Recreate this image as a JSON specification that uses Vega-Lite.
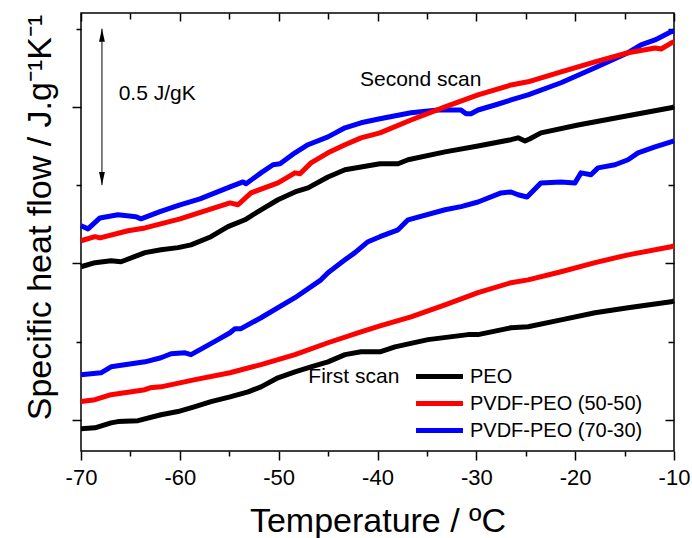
{
  "$schema": "https://vega.github.io/schema/vega-lite/v6.json",
  "width": 593,
  "height": 438,
  "autosize": {"type": "none"},
  "padding": {"left": 81, "top": 13, "right": 18, "bottom": 87},
  "background": "white",
  "config": {
    "view": {"stroke": "black", "strokeWidth": 1.5},
    "axis": {"domain": false, "grid": false, "tickColor": "black", "tickWidth": 1.5, "labelColor": "black", "titleColor": "black", "labelFont": "Liberation Sans", "titleFont": "Liberation Sans", "titleFontWeight": "normal"},
    "legend": {"labelFont": "Liberation Sans", "labelColor": "black"}
  },
  "datasets": {
    "curves": [
      {"sample": "PVDF-PEO (70-30)", "scan": "second", "T": -70, "heat": 0.620},
      {"sample": "PVDF-PEO (70-30)", "scan": "second", "T": -69.29, "heat": 0.610},
      {"sample": "PVDF-PEO (70-30)", "scan": "second", "T": -68.08, "heat": 0.645},
      {"sample": "PVDF-PEO (70-30)", "scan": "second", "T": -66.26, "heat": 0.655},
      {"sample": "PVDF-PEO (70-30)", "scan": "second", "T": -64.43, "heat": 0.649},
      {"sample": "PVDF-PEO (70-30)", "scan": "second", "T": -63.93, "heat": 0.642},
      {"sample": "PVDF-PEO (70-30)", "scan": "second", "T": -62.01, "heat": 0.665},
      {"sample": "PVDF-PEO (70-30)", "scan": "second", "T": -59.98, "heat": 0.687},
      {"sample": "PVDF-PEO (70-30)", "scan": "second", "T": -57.96, "heat": 0.706},
      {"sample": "PVDF-PEO (70-30)", "scan": "second", "T": -54.92, "heat": 0.744},
      {"sample": "PVDF-PEO (70-30)", "scan": "second", "T": -53.61, "heat": 0.760},
      {"sample": "PVDF-PEO (70-30)", "scan": "second", "T": -53.30, "heat": 0.754},
      {"sample": "PVDF-PEO (70-30)", "scan": "second", "T": -51.79, "heat": 0.789},
      {"sample": "PVDF-PEO (70-30)", "scan": "second", "T": -50.57, "heat": 0.815},
      {"sample": "PVDF-PEO (70-30)", "scan": "second", "T": -49.86, "heat": 0.818},
      {"sample": "PVDF-PEO (70-30)", "scan": "second", "T": -48.35, "heat": 0.853},
      {"sample": "PVDF-PEO (70-30)", "scan": "second", "T": -47.03, "heat": 0.879},
      {"sample": "PVDF-PEO (70-30)", "scan": "second", "T": -45.01, "heat": 0.904},
      {"sample": "PVDF-PEO (70-30)", "scan": "second", "T": -43.29, "heat": 0.933},
      {"sample": "PVDF-PEO (70-30)", "scan": "second", "T": -41.67, "heat": 0.949},
      {"sample": "PVDF-PEO (70-30)", "scan": "second", "T": -39.75, "heat": 0.962},
      {"sample": "PVDF-PEO (70-30)", "scan": "second", "T": -36.61, "heat": 0.981},
      {"sample": "PVDF-PEO (70-30)", "scan": "second", "T": -33.88, "heat": 0.990},
      {"sample": "PVDF-PEO (70-30)", "scan": "second", "T": -31.55, "heat": 0.990},
      {"sample": "PVDF-PEO (70-30)", "scan": "second", "T": -31.04, "heat": 0.978},
      {"sample": "PVDF-PEO (70-30)", "scan": "second", "T": -30.54, "heat": 0.978},
      {"sample": "PVDF-PEO (70-30)", "scan": "second", "T": -29.83, "heat": 0.990},
      {"sample": "PVDF-PEO (70-30)", "scan": "second", "T": -28.11, "heat": 1.006},
      {"sample": "PVDF-PEO (70-30)", "scan": "second", "T": -26.49, "heat": 1.022},
      {"sample": "PVDF-PEO (70-30)", "scan": "second", "T": -24.77, "heat": 1.038},
      {"sample": "PVDF-PEO (70-30)", "scan": "second", "T": -21.43, "heat": 1.077},
      {"sample": "PVDF-PEO (70-30)", "scan": "second", "T": -17.99, "heat": 1.125},
      {"sample": "PVDF-PEO (70-30)", "scan": "second", "T": -14.65, "heat": 1.173},
      {"sample": "PVDF-PEO (70-30)", "scan": "second", "T": -13.34, "heat": 1.198},
      {"sample": "PVDF-PEO (70-30)", "scan": "second", "T": -11.92, "heat": 1.214},
      {"sample": "PVDF-PEO (70-30)", "scan": "second", "T": -10.30, "heat": 1.240},
      {"sample": "PVDF-PEO (70-30)", "scan": "second", "T": -10.0, "heat": 1.243},
      {"sample": "PVDF-PEO (70-30)", "scan": "first", "T": -70, "heat": 0.144},
      {"sample": "PVDF-PEO (70-30)", "scan": "first", "T": -67.98, "heat": 0.150},
      {"sample": "PVDF-PEO (70-30)", "scan": "first", "T": -66.96, "heat": 0.169},
      {"sample": "PVDF-PEO (70-30)", "scan": "first", "T": -63.52, "heat": 0.185},
      {"sample": "PVDF-PEO (70-30)", "scan": "first", "T": -61.91, "heat": 0.198},
      {"sample": "PVDF-PEO (70-30)", "scan": "first", "T": -60.89, "heat": 0.211},
      {"sample": "PVDF-PEO (70-30)", "scan": "first", "T": -59.48, "heat": 0.214},
      {"sample": "PVDF-PEO (70-30)", "scan": "first", "T": -58.87, "heat": 0.208},
      {"sample": "PVDF-PEO (70-30)", "scan": "first", "T": -57.45, "heat": 0.233},
      {"sample": "PVDF-PEO (70-30)", "scan": "first", "T": -56.14, "heat": 0.256},
      {"sample": "PVDF-PEO (70-30)", "scan": "first", "T": -54.92, "heat": 0.278},
      {"sample": "PVDF-PEO (70-30)", "scan": "first", "T": -54.42, "heat": 0.291},
      {"sample": "PVDF-PEO (70-30)", "scan": "first", "T": -53.81, "heat": 0.291},
      {"sample": "PVDF-PEO (70-30)", "scan": "first", "T": -51.79, "heat": 0.326},
      {"sample": "PVDF-PEO (70-30)", "scan": "first", "T": -48.35, "heat": 0.390},
      {"sample": "PVDF-PEO (70-30)", "scan": "first", "T": -45.72, "heat": 0.447},
      {"sample": "PVDF-PEO (70-30)", "scan": "first", "T": -45.01, "heat": 0.470},
      {"sample": "PVDF-PEO (70-30)", "scan": "first", "T": -43.29, "heat": 0.511},
      {"sample": "PVDF-PEO (70-30)", "scan": "first", "T": -42.28, "heat": 0.534},
      {"sample": "PVDF-PEO (70-30)", "scan": "first", "T": -40.96, "heat": 0.569},
      {"sample": "PVDF-PEO (70-30)", "scan": "first", "T": -39.75, "heat": 0.585},
      {"sample": "PVDF-PEO (70-30)", "scan": "first", "T": -37.92, "heat": 0.607},
      {"sample": "PVDF-PEO (70-30)", "scan": "first", "T": -36.91, "heat": 0.639},
      {"sample": "PVDF-PEO (70-30)", "scan": "first", "T": -33.17, "heat": 0.671},
      {"sample": "PVDF-PEO (70-30)", "scan": "first", "T": -31.55, "heat": 0.681},
      {"sample": "PVDF-PEO (70-30)", "scan": "first", "T": -29.83, "heat": 0.696},
      {"sample": "PVDF-PEO (70-30)", "scan": "first", "T": -27.50, "heat": 0.725},
      {"sample": "PVDF-PEO (70-30)", "scan": "first", "T": -26.49, "heat": 0.728},
      {"sample": "PVDF-PEO (70-30)", "scan": "first", "T": -25.78, "heat": 0.719},
      {"sample": "PVDF-PEO (70-30)", "scan": "first", "T": -24.87, "heat": 0.712},
      {"sample": "PVDF-PEO (70-30)", "scan": "first", "T": -23.46, "heat": 0.757},
      {"sample": "PVDF-PEO (70-30)", "scan": "first", "T": -21.43, "heat": 0.760},
      {"sample": "PVDF-PEO (70-30)", "scan": "first", "T": -20.02, "heat": 0.757},
      {"sample": "PVDF-PEO (70-30)", "scan": "first", "T": -19.41, "heat": 0.789},
      {"sample": "PVDF-PEO (70-30)", "scan": "first", "T": -18.40, "heat": 0.783},
      {"sample": "PVDF-PEO (70-30)", "scan": "first", "T": -17.69, "heat": 0.805},
      {"sample": "PVDF-PEO (70-30)", "scan": "first", "T": -15.97, "heat": 0.815},
      {"sample": "PVDF-PEO (70-30)", "scan": "first", "T": -14.65, "heat": 0.831},
      {"sample": "PVDF-PEO (70-30)", "scan": "first", "T": -13.64, "heat": 0.853},
      {"sample": "PVDF-PEO (70-30)", "scan": "first", "T": -11.92, "heat": 0.872},
      {"sample": "PVDF-PEO (70-30)", "scan": "first", "T": -10.30, "heat": 0.888},
      {"sample": "PVDF-PEO (70-30)", "scan": "first", "T": -10.0, "heat": 0.891},
      {"sample": "PVDF-PEO (50-50)", "scan": "second", "T": -70, "heat": 0.572},
      {"sample": "PVDF-PEO (50-50)", "scan": "second", "T": -68.58, "heat": 0.585},
      {"sample": "PVDF-PEO (50-50)", "scan": "second", "T": -68.08, "heat": 0.581},
      {"sample": "PVDF-PEO (50-50)", "scan": "second", "T": -65.24, "heat": 0.604},
      {"sample": "PVDF-PEO (50-50)", "scan": "second", "T": -63.52, "heat": 0.613},
      {"sample": "PVDF-PEO (50-50)", "scan": "second", "T": -59.98, "heat": 0.642},
      {"sample": "PVDF-PEO (50-50)", "scan": "second", "T": -54.92, "heat": 0.693},
      {"sample": "PVDF-PEO (50-50)", "scan": "second", "T": -54.11, "heat": 0.687},
      {"sample": "PVDF-PEO (50-50)", "scan": "second", "T": -52.80, "heat": 0.725},
      {"sample": "PVDF-PEO (50-50)", "scan": "second", "T": -50.07, "heat": 0.757},
      {"sample": "PVDF-PEO (50-50)", "scan": "second", "T": -48.35, "heat": 0.789},
      {"sample": "PVDF-PEO (50-50)", "scan": "second", "T": -47.84, "heat": 0.786},
      {"sample": "PVDF-PEO (50-50)", "scan": "second", "T": -46.73, "heat": 0.821},
      {"sample": "PVDF-PEO (50-50)", "scan": "second", "T": -45.01, "heat": 0.853},
      {"sample": "PVDF-PEO (50-50)", "scan": "second", "T": -43.29, "heat": 0.879},
      {"sample": "PVDF-PEO (50-50)", "scan": "second", "T": -41.67, "heat": 0.901},
      {"sample": "PVDF-PEO (50-50)", "scan": "second", "T": -39.75, "heat": 0.917},
      {"sample": "PVDF-PEO (50-50)", "scan": "second", "T": -36.61, "heat": 0.958},
      {"sample": "PVDF-PEO (50-50)", "scan": "second", "T": -33.17, "heat": 1.000},
      {"sample": "PVDF-PEO (50-50)", "scan": "second", "T": -29.83, "heat": 1.038},
      {"sample": "PVDF-PEO (50-50)", "scan": "second", "T": -26.49, "heat": 1.070},
      {"sample": "PVDF-PEO (50-50)", "scan": "second", "T": -24.77, "heat": 1.080},
      {"sample": "PVDF-PEO (50-50)", "scan": "second", "T": -21.43, "heat": 1.112},
      {"sample": "PVDF-PEO (50-50)", "scan": "second", "T": -17.99, "heat": 1.144},
      {"sample": "PVDF-PEO (50-50)", "scan": "second", "T": -14.65, "heat": 1.173},
      {"sample": "PVDF-PEO (50-50)", "scan": "second", "T": -11.92, "heat": 1.188},
      {"sample": "PVDF-PEO (50-50)", "scan": "second", "T": -11.31, "heat": 1.185},
      {"sample": "PVDF-PEO (50-50)", "scan": "second", "T": -10.30, "heat": 1.204},
      {"sample": "PVDF-PEO (50-50)", "scan": "second", "T": -10.0, "heat": 1.208},
      {"sample": "PVDF-PEO (50-50)", "scan": "first", "T": -70, "heat": 0.058},
      {"sample": "PVDF-PEO (50-50)", "scan": "first", "T": -68.58, "heat": 0.064},
      {"sample": "PVDF-PEO (50-50)", "scan": "first", "T": -66.96, "heat": 0.080},
      {"sample": "PVDF-PEO (50-50)", "scan": "first", "T": -63.52, "heat": 0.096},
      {"sample": "PVDF-PEO (50-50)", "scan": "first", "T": -63.02, "heat": 0.102},
      {"sample": "PVDF-PEO (50-50)", "scan": "first", "T": -61.91, "heat": 0.105},
      {"sample": "PVDF-PEO (50-50)", "scan": "first", "T": -58.46, "heat": 0.128},
      {"sample": "PVDF-PEO (50-50)", "scan": "first", "T": -54.92, "heat": 0.150},
      {"sample": "PVDF-PEO (50-50)", "scan": "first", "T": -51.79, "heat": 0.176},
      {"sample": "PVDF-PEO (50-50)", "scan": "first", "T": -48.35, "heat": 0.208},
      {"sample": "PVDF-PEO (50-50)", "scan": "first", "T": -45.01, "heat": 0.246},
      {"sample": "PVDF-PEO (50-50)", "scan": "first", "T": -41.67, "heat": 0.281},
      {"sample": "PVDF-PEO (50-50)", "scan": "first", "T": -39.75, "heat": 0.300},
      {"sample": "PVDF-PEO (50-50)", "scan": "first", "T": -36.61, "heat": 0.329},
      {"sample": "PVDF-PEO (50-50)", "scan": "first", "T": -33.17, "heat": 0.367},
      {"sample": "PVDF-PEO (50-50)", "scan": "first", "T": -29.83, "heat": 0.406},
      {"sample": "PVDF-PEO (50-50)", "scan": "first", "T": -26.49, "heat": 0.438},
      {"sample": "PVDF-PEO (50-50)", "scan": "first", "T": -24.77, "heat": 0.447},
      {"sample": "PVDF-PEO (50-50)", "scan": "first", "T": -21.43, "heat": 0.473},
      {"sample": "PVDF-PEO (50-50)", "scan": "first", "T": -17.99, "heat": 0.502},
      {"sample": "PVDF-PEO (50-50)", "scan": "first", "T": -14.65, "heat": 0.527},
      {"sample": "PVDF-PEO (50-50)", "scan": "first", "T": -10.30, "heat": 0.553},
      {"sample": "PVDF-PEO (50-50)", "scan": "first", "T": -10.0, "heat": 0.556},
      {"sample": "PEO", "scan": "second", "T": -70, "heat": 0.489},
      {"sample": "PEO", "scan": "second", "T": -68.58, "heat": 0.502},
      {"sample": "PEO", "scan": "second", "T": -66.96, "heat": 0.508},
      {"sample": "PEO", "scan": "second", "T": -65.95, "heat": 0.505},
      {"sample": "PEO", "scan": "second", "T": -63.52, "heat": 0.534},
      {"sample": "PEO", "scan": "second", "T": -61.91, "heat": 0.543},
      {"sample": "PEO", "scan": "second", "T": -60.19, "heat": 0.550},
      {"sample": "PEO", "scan": "second", "T": -58.87, "heat": 0.559},
      {"sample": "PEO", "scan": "second", "T": -56.85, "heat": 0.585},
      {"sample": "PEO", "scan": "second", "T": -55.13, "heat": 0.617},
      {"sample": "PEO", "scan": "second", "T": -53.41, "heat": 0.639},
      {"sample": "PEO", "scan": "second", "T": -51.79, "heat": 0.671},
      {"sample": "PEO", "scan": "second", "T": -50.07, "heat": 0.703},
      {"sample": "PEO", "scan": "second", "T": -48.35, "heat": 0.728},
      {"sample": "PEO", "scan": "second", "T": -47.03, "heat": 0.741},
      {"sample": "PEO", "scan": "second", "T": -45.01, "heat": 0.776},
      {"sample": "PEO", "scan": "second", "T": -43.29, "heat": 0.799},
      {"sample": "PEO", "scan": "second", "T": -41.67, "heat": 0.808},
      {"sample": "PEO", "scan": "second", "T": -39.75, "heat": 0.818},
      {"sample": "PEO", "scan": "second", "T": -37.92, "heat": 0.818},
      {"sample": "PEO", "scan": "second", "T": -36.91, "heat": 0.831},
      {"sample": "PEO", "scan": "second", "T": -33.17, "heat": 0.856},
      {"sample": "PEO", "scan": "second", "T": -29.83, "heat": 0.875},
      {"sample": "PEO", "scan": "second", "T": -26.49, "heat": 0.895},
      {"sample": "PEO", "scan": "second", "T": -25.78, "heat": 0.901},
      {"sample": "PEO", "scan": "second", "T": -25.07, "heat": 0.891},
      {"sample": "PEO", "scan": "second", "T": -24.57, "heat": 0.898},
      {"sample": "PEO", "scan": "second", "T": -23.46, "heat": 0.917},
      {"sample": "PEO", "scan": "second", "T": -19.71, "heat": 0.942},
      {"sample": "PEO", "scan": "second", "T": -15.77, "heat": 0.965},
      {"sample": "PEO", "scan": "second", "T": -10.30, "heat": 0.997},
      {"sample": "PEO", "scan": "second", "T": -10.0, "heat": 1.000},
      {"sample": "PEO", "scan": "first", "T": -70, "heat": -0.029},
      {"sample": "PEO", "scan": "first", "T": -68.58, "heat": -0.026},
      {"sample": "PEO", "scan": "first", "T": -66.96, "heat": -0.010},
      {"sample": "PEO", "scan": "first", "T": -66.26, "heat": -0.006},
      {"sample": "PEO", "scan": "first", "T": -64.23, "heat": -0.003},
      {"sample": "PEO", "scan": "first", "T": -61.91, "heat": 0.016},
      {"sample": "PEO", "scan": "first", "T": -60.19, "heat": 0.026},
      {"sample": "PEO", "scan": "first", "T": -58.46, "heat": 0.042},
      {"sample": "PEO", "scan": "first", "T": -56.85, "heat": 0.058},
      {"sample": "PEO", "scan": "first", "T": -54.92, "heat": 0.073},
      {"sample": "PEO", "scan": "first", "T": -53.10, "heat": 0.089},
      {"sample": "PEO", "scan": "first", "T": -51.79, "heat": 0.105},
      {"sample": "PEO", "scan": "first", "T": -50.07, "heat": 0.134},
      {"sample": "PEO", "scan": "first", "T": -48.35, "heat": 0.153},
      {"sample": "PEO", "scan": "first", "T": -46.73, "heat": 0.169},
      {"sample": "PEO", "scan": "first", "T": -45.01, "heat": 0.185},
      {"sample": "PEO", "scan": "first", "T": -43.29, "heat": 0.208},
      {"sample": "PEO", "scan": "first", "T": -41.67, "heat": 0.217},
      {"sample": "PEO", "scan": "first", "T": -39.75, "heat": 0.217},
      {"sample": "PEO", "scan": "first", "T": -38.23, "heat": 0.233},
      {"sample": "PEO", "scan": "first", "T": -34.89, "heat": 0.256},
      {"sample": "PEO", "scan": "first", "T": -30.84, "heat": 0.272},
      {"sample": "PEO", "scan": "first", "T": -29.83, "heat": 0.272},
      {"sample": "PEO", "scan": "first", "T": -26.49, "heat": 0.294},
      {"sample": "PEO", "scan": "first", "T": -24.77, "heat": 0.297},
      {"sample": "PEO", "scan": "first", "T": -21.43, "heat": 0.319},
      {"sample": "PEO", "scan": "first", "T": -17.99, "heat": 0.342},
      {"sample": "PEO", "scan": "first", "T": -14.65, "heat": 0.358},
      {"sample": "PEO", "scan": "first", "T": -10.30, "heat": 0.377},
      {"sample": "PEO", "scan": "first", "T": -10.0, "heat": 0.380}
    ]
  },
  "resolve": {"axis": {"x": "independent", "y": "independent"}},
  "layer": [
    {
      "data": {"name": "curves"},
      "mark": {"type": "line", "strokeWidth": 5, "strokeJoin": "round"},
      "encoding": {
        "x": {"field": "T", "type": "quantitative", "scale": {"domain": [-70, -10], "nice": false, "zero": false},
          "axis": {"orient": "bottom", "values": [-70, -60, -50, -40, -30, -20, -10], "tickSize": 9, "labelExpr": "'' + datum.value", "labelFlush": false, "labelOverlap": false, "labelFontSize": 22, "labelPadding": 24, "labelBaseline": "alphabetic", "title": "Temperature / ºC", "titleFontSize": 34, "titleY": 80, "titleBaseline": "alphabetic"}},
        "y": {"field": "heat", "type": "quantitative", "scale": {"domain": [-0.1, 1.3], "nice": false, "zero": false},
          "axis": {"orient": "left", "values": [0, 0.5, 1], "tickSize": 9, "labels": false, "title": "Specific heat flow / J.g⁻¹K⁻¹", "titleFontSize": 34, "titleX": -31, "titleY": 204, "titleAngle": -90, "titleAlign": "center", "titleBaseline": "alphabetic"}},
        "color": {"field": "sample", "type": "nominal",
          "scale": {"domain": ["PEO", "PVDF-PEO (50-50)", "PVDF-PEO (70-30)"], "range": ["#000000", "#ff0000", "#0000ff"]},
          "legend": {"orient": "none", "legendX": 348, "legendY": 353, "title": null, "symbolType": "M-3,0H3", "symbolSize": 245, "symbolStrokeWidth": 5, "labelFontSize": 20, "labelOffset": 20, "labelLimit": 400, "rowPadding": 6}},
        "detail": {"field": "scan"}
      }
    },
    {
      "data": {"values": [{"T": -67.88, "top": 1.25, "bottom": 0.75}]},
      "mark": {"type": "rule", "color": "black", "strokeWidth": 1},
      "encoding": {
        "x": {"field": "T", "type": "quantitative", "scale": {"domain": [-70, -10], "nice": false, "zero": false},
          "axis": {"orient": "bottom", "values": [-65, -55, -45, -35, -25, -15], "tickSize": 5, "labels": false, "title": null}},
        "y": {"field": "top", "type": "quantitative", "scale": {"domain": [-0.1, 1.3], "nice": false, "zero": false},
          "axis": {"orient": "left", "values": [0.25, 0.75, 1.25], "tickSize": 5, "labels": false, "title": null}},
        "y2": {"field": "bottom"}
      }
    },
    {
      "data": {"values": [{"T": -67.88, "heat": 1.25, "dir": "up"}, {"T": -67.88, "heat": 0.75, "dir": "down"}]},
      "mark": {"type": "point", "filled": true, "color": "black", "size": 169, "opacity": 1, "strokeWidth": 0},
      "encoding": {
        "x": {"field": "T", "type": "quantitative", "scale": {"domain": [-70, -10], "nice": false, "zero": false},
          "axis": {"orient": "top", "values": [-70, -60, -50, -40, -30, -20, -10], "tickSize": -8, "labels": false, "title": null}},
        "y": {"field": "heat", "type": "quantitative", "scale": {"domain": [-0.1, 1.3], "nice": false, "zero": false},
          "axis": {"orient": "right", "values": [0, 0.5, 1], "tickSize": -9, "labels": false, "title": null}},
        "shape": {"field": "dir", "type": "nominal", "scale": {"domain": ["up", "down"], "range": ["M0,0L-0.45,2L0.45,2Z", "M0,0L-0.45,-2L0.45,-2Z"]}, "legend": null}
      }
    },
    {
      "data": {"values": [
        {"T": -66.19, "heat": 1.022, "label": "0.5 J/gK"},
        {"T": -41.77, "heat": 1.067, "label": "Second scan"},
        {"T": -47.0, "heat": 0.118, "label": "First scan"}
      ]},
      "mark": {"type": "text", "align": "left", "baseline": "alphabetic", "fontSize": 21, "font": "Liberation Sans", "color": "black"},
      "encoding": {
        "x": {"field": "T", "type": "quantitative", "scale": {"domain": [-70, -10], "nice": false, "zero": false},
          "axis": {"orient": "top", "values": [-65, -55, -45, -35, -25, -15], "tickSize": -6, "labels": false, "title": null}},
        "y": {"field": "heat", "type": "quantitative", "scale": {"domain": [-0.1, 1.3], "nice": false, "zero": false},
          "axis": {"orient": "right", "values": [0.25, 0.75, 1.25], "tickSize": -6, "labels": false, "title": null}},
        "text": {"field": "label"}
      }
    }
  ]
}
